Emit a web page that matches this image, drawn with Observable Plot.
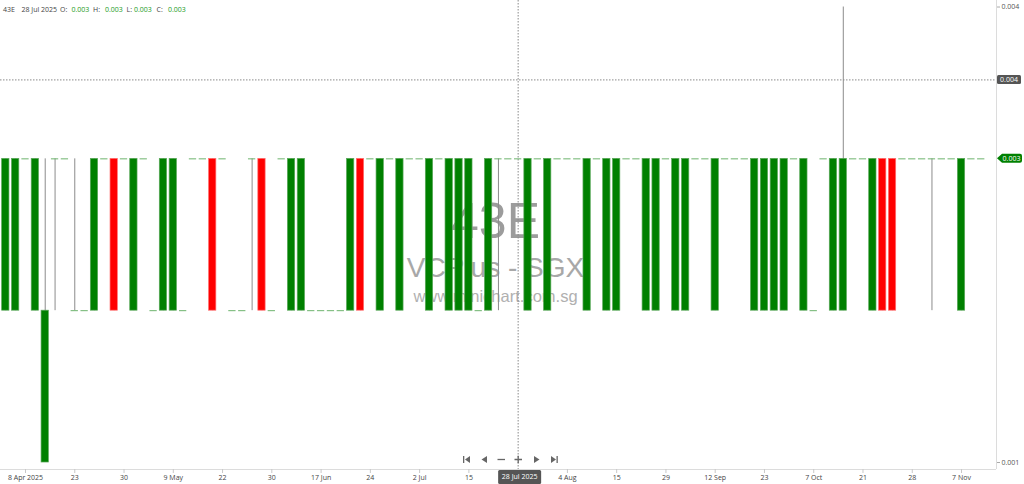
<!DOCTYPE html>
<html>
<head>
<meta charset="utf-8">
<script src="https://cdn.jsdelivr.net/npm/d3@7"></script>
<script src="https://cdn.jsdelivr.net/npm/@observablehq/plot@0.6"></script>
<style>
  html, body { margin: 0; padding: 0; background: #fff; }
  svg { display: block; font-family: "Open Sans", "DejaVu Sans", sans-serif; }
</style>
</head>
<body>
<div id="chart"></div>
<script>
// ---- data (one entry per trading bar, in order) ----
const symbol = "43E";
const company = "VCPlus - SGX";
const site = "www.minichart.com.sg";

const openP = [
  0.002,0.002,0.003,0.002,0.001,0.003,0.003,0.002,0.002,0.002,
  0.003,0.003,0.003,0.002,0.003,0.002,0.002,0.002,0.002,0.003,
  0.003,0.003,0.003,0.002,0.002,0.003,0.003,0.002,0.003,0.002,
  0.002,0.002,0.002,0.002,0.002,0.002,0.003,0.003,0.002,0.003,
  0.002,0.003,0.003,0.002,0.003,0.002,0.002,0.002,0.002,0.002,
  0.003,0.003,0.003,0.002,0.003,0.002,0.003,0.003,0.003,0.002,
  0.003,0.002,0.002,0.003,0.003,0.002,0.002,0.003,0.002,0.002,
  0.003,0.003,0.002,0.003,0.003,0.003,0.002,0.002,0.002,0.002,
  0.003,0.002,0.002,0.003,0.002,0.002,0.003,0.003,0.002,0.003,
  0.003,0.003,0.003,0.003,0.003,0.003,0.003,0.002,0.003,0.003
];
const highP = [
  0.003,0.003,0.003,0.003,0.003,0.003,0.003,0.003,0.002,0.003,
  0.003,0.003,0.003,0.003,0.003,0.002,0.003,0.003,0.002,0.003,
  0.003,0.003,0.003,0.002,0.002,0.003,0.003,0.002,0.003,0.003,
  0.003,0.002,0.002,0.002,0.002,0.003,0.003,0.003,0.003,0.003,
  0.003,0.003,0.003,0.003,0.003,0.003,0.003,0.003,0.002,0.003,
  0.003,0.003,0.003,0.003,0.003,0.003,0.003,0.003,0.003,0.003,
  0.003,0.003,0.003,0.003,0.003,0.003,0.003,0.003,0.003,0.003,
  0.003,0.003,0.003,0.003,0.003,0.003,0.003,0.003,0.003,0.003,
  0.003,0.003,0.002,0.003,0.003,0.004,0.003,0.003,0.003,0.003,
  0.003,0.003,0.003,0.003,0.003,0.003,0.003,0.003,0.003,0.003
];
const lowP = [
  0.002,0.002,0.003,0.002,0.001,0.002,0.003,0.002,0.002,0.002,
  0.003,0.002,0.003,0.002,0.003,0.002,0.002,0.002,0.002,0.003,
  0.003,0.002,0.003,0.002,0.002,0.002,0.002,0.002,0.003,0.002,
  0.002,0.002,0.002,0.002,0.002,0.002,0.002,0.003,0.002,0.003,
  0.002,0.003,0.003,0.002,0.003,0.002,0.002,0.002,0.002,0.002,
  0.002,0.003,0.003,0.002,0.003,0.002,0.003,0.003,0.003,0.002,
  0.003,0.002,0.002,0.003,0.003,0.002,0.002,0.003,0.002,0.002,
  0.003,0.003,0.002,0.003,0.003,0.003,0.002,0.002,0.002,0.002,
  0.003,0.002,0.002,0.003,0.002,0.002,0.003,0.003,0.002,0.002,
  0.002,0.003,0.003,0.003,0.002,0.003,0.003,0.002,0.003,0.003
];
const closeP = [
  0.003,0.003,0.003,0.003,0.002,0.003,0.003,0.002,0.002,0.003,
  0.003,0.002,0.003,0.003,0.003,0.002,0.003,0.003,0.002,0.003,
  0.003,0.002,0.003,0.002,0.002,0.003,0.002,0.002,0.003,0.003,
  0.003,0.002,0.002,0.002,0.002,0.003,0.002,0.003,0.003,0.003,
  0.003,0.003,0.003,0.003,0.003,0.003,0.003,0.003,0.002,0.003,
  0.003,0.003,0.003,0.003,0.003,0.003,0.003,0.003,0.003,0.003,
  0.003,0.003,0.003,0.003,0.003,0.003,0.003,0.003,0.003,0.003,
  0.003,0.003,0.003,0.003,0.003,0.003,0.003,0.003,0.003,0.003,
  0.003,0.003,0.002,0.003,0.003,0.003,0.003,0.003,0.003,0.002,
  0.002,0.003,0.003,0.003,0.003,0.003,0.003,0.003,0.003,0.003
];

const tickIndex  = [2, 7, 12, 17, 22, 27, 32, 37, 42, 47, 52, 57, 62, 67, 72, 77, 82, 87, 92, 97];
const tickLabels = ["8 Apr 2025","23","30","9 May","22","30","17 Jun","24","2 Jul","15","28",
                    "4 Aug","15","29","12 Sep","23","7 Oct","21","28","7 Nov"];
const yTicks = [0.004, 0.001];

const crossIndex = 52;
const crossDate = "28 Jul 2025";
const crossPrice = 0.00352;
const headerKeys = ["O", "H", "L", "C"];
const headerVals = [0.003, 0.003, 0.003, 0.003];
const lastClose = 0.003;

// ---- build ----
const bars = openP.map((o, i) => ({i, open: o, high: highP[i], low: lowP[i], close: closeP[i]}));
const halfW = 0.37;
const fmt = d3.format(".3f");
const tickMap = new Map(tickIndex.map((t, k) => [t, tickLabels[k]]));
const xDomain = [-0.538, 100.55];
const yDomain = [0.000954, 0.004043];

const plot = Plot.plot({
  width: 1024,
  height: 484,
  marginLeft: 0,
  marginRight: 28,
  marginTop: 0,
  marginBottom: 15,
  x: {domain: xDomain, axis: null},
  y: {domain: yDomain, axis: null, label: null},
  color: {type: "identity"},
  style: {fontFamily: "'Open Sans', sans-serif", background: "#fff"},
  marks: [
    // watermark
    Plot.text([symbol], {text: d => d, frameAnchor: "top", dx: -3, dy: 202, fontSize: 50,
      fill: "#9c9c9c", fontFamily: "'Liberation Sans', Arial, sans-serif"}),
    Plot.text([company], {text: d => d, frameAnchor: "top", dx: -3, dy: 257, fontSize: 28,
      fill: "#a8a8a8", fontFamily: "'Liberation Sans', Arial, sans-serif"}),
    Plot.text([site], {text: d => d, frameAnchor: "top", dx: -3, dy: 290, fontSize: 16.5,
      fill: "#b0b0b0", fontFamily: "'Liberation Sans', Arial, sans-serif"}),
    // frame lines
    Plot.ruleY([yDomain[0]], {stroke: "#dcdcdc"}),
    Plot.ruleX([xDomain[1]], {stroke: "#dcdcdc"}),
    // crosshair
    Plot.ruleX([crossIndex], {stroke: "#8a8a8a", strokeDasharray: "1.5,1.5"}),
    Plot.ruleY([crossPrice], {stroke: "#8a8a8a", strokeDasharray: "1.5,1.5"}),
    // wicks
    Plot.ruleX(bars.filter(d => d.high > d.low), {x: "i", y1: "low", y2: "high", stroke: "#8c8c8c", strokeWidth: 1}),
    // bodies
    Plot.rect(bars.filter(d => d.open !== d.close), {
      x1: d => d.i - halfW, x2: d => d.i + halfW, y1: "open", y2: "close",
      fill: d => d.close > d.open ? "#008000" : "#ff0000",
      stroke: d => d.close > d.open ? "#5aa85a" : "#ff7070", strokeWidth: 0.7
    }),
    // doji bodies
    Plot.ruleY(bars.filter(d => d.open === d.close), {
      x1: d => d.i - halfW, x2: d => d.i + halfW, y: "open", stroke: "#6db36d", strokeWidth: 1
    }),
    // axes
    Plot.axisX(tickIndex.filter(t => t !== crossIndex), {
      tickFormat: t => tickMap.get(t), tickSize: 4, tickPadding: 2, fontSize: 7,
      stroke: "#c8c8c8", fill: "#444", label: null
    }),
    Plot.axisY(yTicks, {anchor: "right", tickFormat: fmt, tickSize: 3, tickPadding: 2,
      fontSize: 7, stroke: "#aaa", fill: "#555", label: null})
  ]
});

document.getElementById("chart").appendChild(plot);

// ---- overlays positioned through the plot's scales ----
const svg = d3.select(plot);
const xs = plot.scale("x"), ys = plot.scale("y");
const xr = 1024 - 28;

// header
const hg = svg.append("g").attr("font-size", 7).attr("text-anchor", "start");
const hdrText = (x, t, c) => hg.append("text").attr("x", x).attr("y", 10).attr("dy", "0.35em")
  .attr("text-anchor", "start").attr("fill", c).text(t);
hdrText(3, symbol, "#444");
hdrText(21.5, crossDate, "#444");
const hx = [[60, 71.5], [93, 105], [126.5, 134], [156.5, 168]];
headerKeys.forEach((k, j) => {
  hdrText(hx[j][0], k + ":", "#444");
  hdrText(hx[j][1], fmt(headerVals[j]), "#1a9a1a");
});

// last close tag (green arrow)
const yc = ys.apply(lastClose);
svg.append("path")
  .attr("d", `M${xr + 1},${yc} L${xr + 6},${yc - 4.5} H${xr + 24} q2,0 2,2 V${yc + 2.5} q0,2 -2,2 H${xr + 6} Z`)
  .attr("fill", "#008000");
svg.append("text").attr("x", xr + 15.5).attr("y", yc).attr("dy", "0.35em")
  .attr("text-anchor", "middle").attr("font-size", 7).attr("fill", "#fff").text(fmt(lastClose));

// crosshair price tag
const yp = ys.apply(crossPrice);
svg.append("rect").attr("x", xr + 1).attr("y", yp - 4.5).attr("width", 24).attr("height", 9)
  .attr("rx", 1.5).attr("fill", "#555");
svg.append("text").attr("x", xr + 13).attr("y", yp).attr("dy", "0.35em")
  .attr("text-anchor", "middle").attr("font-size", 7).attr("fill", "#fff").text(fmt(crossPrice));

// crosshair date tag
const xc = xs.apply(crossIndex);
svg.append("rect").attr("x", xc - 19.5).attr("y", 470).attr("width", 43).attr("height", 14)
  .attr("rx", 1.5).attr("fill", "#555");
svg.append("text").attr("x", xc + 2).attr("y", 477).attr("dy", "0.35em")
  .attr("text-anchor", "middle").attr("font-size", 7).attr("fill", "#fff").text(crossDate);

// navigation controls
const nav = svg.append("g").attr("fill", "#666").attr("stroke", "#666");
const ny = 459.5;
nav.append("rect").attr("x", 463).attr("y", ny - 3.5).attr("width", 1.3).attr("height", 7).attr("stroke", "none");
nav.append("path").attr("d", `M465,${ny} L470,${ny - 3.5} V${ny + 3.5} Z`).attr("stroke", "none");
nav.append("path").attr("d", `M481.5,${ny} L487,${ny - 3.5} V${ny + 3.5} Z`).attr("stroke", "none");
nav.append("path").attr("d", `M497.5,${ny} H505`).attr("stroke-width", 1.3);
nav.append("path").attr("d", `M514.5,${ny} H522 M518.2,${ny - 3.7} V${ny + 3.7}`).attr("stroke-width", 1.3);
nav.append("path").attr("d", `M539.5,${ny} L534,${ny - 3.5} V${ny + 3.5} Z`).attr("stroke", "none");
nav.append("path").attr("d", `M556,${ny} L551,${ny - 3.5} V${ny + 3.5} Z`).attr("stroke", "none");
nav.append("rect").attr("x", 556.5).attr("y", ny - 3.5).attr("width", 1.3).attr("height", 7).attr("stroke", "none");
</script>
</body>
</html>
